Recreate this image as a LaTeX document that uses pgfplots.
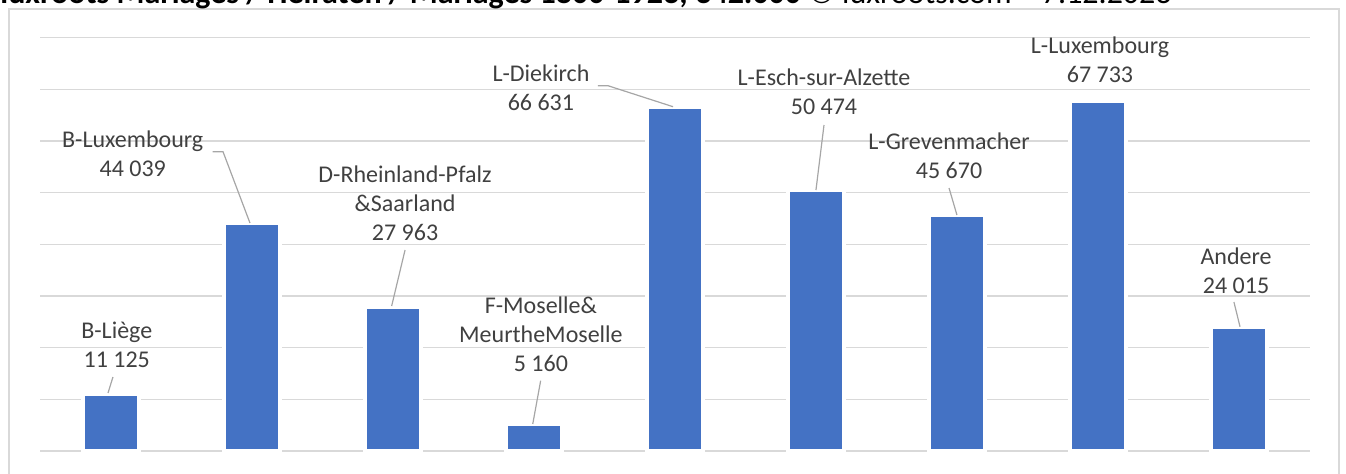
\documentclass[border=0pt]{standalone}
\usepackage{pgfplots}
\pgfplotsset{compat=1.18}
\usepackage{fontspec}
\setmainfont{Carlito}
\definecolor{barblue}{HTML}{4472C4}
\definecolor{gridgray}{HTML}{D9D9D9}
\definecolor{txtgray}{HTML}{404040}
\definecolor{leadgray}{HTML}{A6A6A6}
\begin{document}
\begin{tikzpicture}
\useasboundingbox (0,0) rectangle (673pt,237pt);
\draw[gridgray, line width=0.75pt] (4.5pt,-5pt) rectangle (669.5pt,232.5pt);
\node[anchor=base west, inner sep=0pt, text=black, font=\fontsize{16}{18}\selectfont] at (0pt,235pt)
  {\textbf{luxroots Mariages / Heiraten / Mariages 1800-1923; 342.000} © luxroots.com -- 7.12.2023};
\begin{axis}[
  at={(20pt,11.5pt)}, anchor=south west,
  scale only axis, width=635pt, height=206.65pt,
  xmin=-0.5, xmax=8.5, ymin=0, ymax=80000,
  ytick={0,10000,...,80000}, yticklabels={}, xtick=\empty,
  scaled y ticks=false,
  ymajorgrids, major grid style={gridgray, line width=0.75pt},
  axis line style={draw=none}, tick style={draw=none},
  clip=false,
  nodes={font=\fontsize{12}{14.5}\selectfont, text=txtgray, align=center, inner sep=0pt},
]
\addplot[ybar, bar width=28pt, fill=barblue, draw=white, line width=2pt] coordinates {
  (0,11125) (1,44039) (2,27963) (3,5160) (4,66631) (5,50474) (6,45670) (7,67733) (8,24015)};
\node at (axis cs:0.044,20614) {B-Liège\\11 125};
\node at (axis cs:0.157,57487) {B-Luxembourg\\44 039};
\node at (axis cs:2.087,48033) {D-Rheinland-Pfalz\\\&Saarland\\27 963};
\node at (axis cs:3.050,22647) {F-Moselle\&\\MeurtheMoselle\\5 160};
\node at (axis cs:3.050,70359) {L-Diekirch\\66 631};
\node at (axis cs:5.056,69546) {L-Esch-sur-Alzette\\50 474};
\node at (axis cs:5.942,57226) {L-Grevenmacher\\45 670};
\node at (axis cs:7.012,75779) {L-Luxembourg\\67 733};
\node at (axis cs:7.976,34938) {Andere\\24 015};
\begin{scope}[leadgray, line width=0.6pt]
\draw (axis cs:0.017,14323) -- (axis cs:-0.018,11226);
\draw (axis cs:0.724,57932) -- (axis cs:0.797,57932) -- (axis cs:0.988,44132);
\draw (axis cs:2.087,38906) -- (axis cs:1.992,28066);
\draw (axis cs:3.048,13607) -- (axis cs:2.992,5226);
\draw (axis cs:3.454,70707) -- (axis cs:3.525,70707) -- (axis cs:3.986,66643);
\draw (axis cs:5.056,63101) -- (axis cs:4.999,50519);
\draw (axis cs:5.942,50906) -- (axis cs:5.998,45680);
\draw (axis cs:7.961,28840) -- (axis cs:8.004,24060);
\end{scope}
\end{axis}
\end{tikzpicture}
\end{document}
